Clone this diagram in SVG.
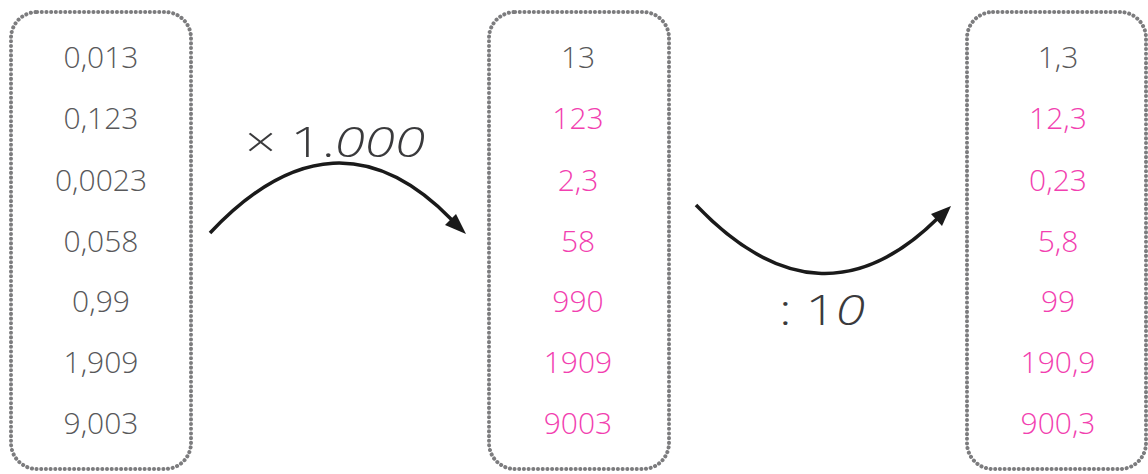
<svg xmlns="http://www.w3.org/2000/svg" width="1148" height="474" viewBox="0 0 1148 474">
<style>
.box{fill:#fff;stroke:#7c7c7e;stroke-width:4;stroke-dasharray:0.1 4.6;stroke-linecap:round}
.t{font-family:"Open Sans","Noto Sans","Liberation Sans",sans-serif;font-weight:300;font-size:30px;text-anchor:middle}
.g{fill:#58585a}
.p{fill:#f23fb0}
.lbl{font-family:"Open Sans","Noto Sans","Liberation Sans",sans-serif;font-weight:300;font-size:43px;fill:#3a3a3c}
.arc{fill:none;stroke:#1a1a1a;stroke-width:3.5}
</style>
<g id="box1">
<rect class="box" x="11" y="12" width="180" height="457" rx="26"/>
<text class="t g" x="101" y="68">0,013</text>
<text class="t g" x="101" y="129">0,123</text>
<text class="t g" x="101" y="191">0,0023</text>
<text class="t g" x="101" y="252">0,058</text>
<text class="t g" x="101" y="312">0,99</text>
<text class="t g" x="101" y="373">1,909</text>
<text class="t g" x="101" y="434">9,003</text>
</g>
<g id="box2">
<rect class="box" x="489" y="12" width="180" height="457" rx="26"/>
<text class="t g" x="578" y="68">13</text>
<text class="t p" x="578" y="129">123</text>
<text class="t p" x="578" y="191">2,3</text>
<text class="t p" x="578" y="252">58</text>
<text class="t p" x="578" y="312">990</text>
<text class="t p" x="578" y="373">1909</text>
<text class="t p" x="578" y="434">9003</text>
</g>
<g id="box3">
<rect class="box" x="967" y="12" width="179" height="457" rx="26"/>
<text class="t g" x="1058" y="68">1,3</text>
<text class="t p" x="1058" y="129">12,3</text>
<text class="t p" x="1058" y="191">0,23</text>
<text class="t p" x="1058" y="252">5,8</text>
<text class="t p" x="1058" y="312">99</text>
<text class="t p" x="1058" y="373">190,9</text>
<text class="t p" x="1058" y="434">900,3</text>
</g>
<g id="connectors">
<path class="arc" d="M210,233 Q335,100 452,220"/>
<path d="M466,234 L445,225 L456,214 Z" fill="#1a1a1a"/>
<path class="arc" d="M696,205 Q820,335 938,218"/>
<path d="M951,206 L942,226 L931,214 Z" fill="#1a1a1a"/>
</g>
<g id="labels">
<text class="lbl" x="245" y="157" textLength="180" lengthAdjust="spacingAndGlyphs">× 1.<tspan font-style="italic">000</tspan></text>
<text class="lbl" x="779" y="325" textLength="86" lengthAdjust="spacingAndGlyphs">: 1<tspan font-style="italic">0</tspan></text>
</g>
</svg>
